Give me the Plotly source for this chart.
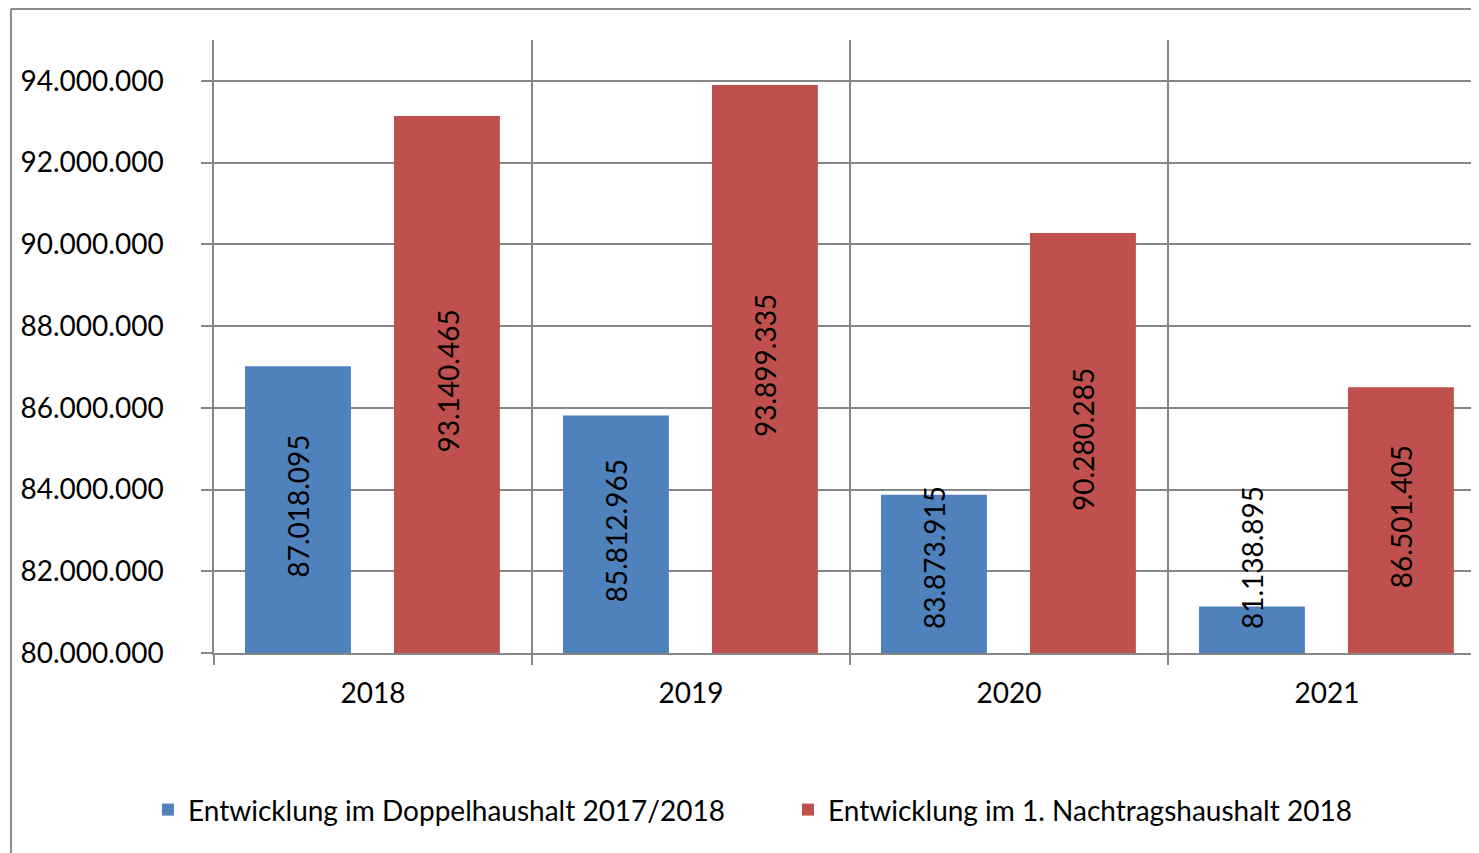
import plotly.graph_objects as go

years = ["2018", "2019", "2020", "2021"]
doppel = [87018095, 85812965, 83873915, 81138895]
nachtrag = [93140465, 93899335, 90280285, 86501405]
name_doppel = "Entwicklung im Doppelhaushalt 2017/2018"
name_nachtrag = "Entwicklung im 1. Nachtragshaushalt 2018"

Y_MIN, Y_MAX = 80000000, 95000000
BLUE = "#4F81BD"
RED = "#C0504D"
GRID = "#868686"
FONT = "Lato"
FS = 28


def de(v):
    return f"{v:,}".replace(",", ".")


fig = go.Figure()
fig.add_trace(go.Bar(x=years, y=doppel, name=name_doppel, marker_color=BLUE,
                     offset=-0.4025, width=0.333, marker_line_width=0))
fig.add_trace(go.Bar(x=years, y=nachtrag, name=name_nachtrag, marker_color=RED,
                     offset=0.066, width=0.333, marker_line_width=0))

label_floor = 82250000
for series, shift in ((doppel, -75), (nachtrag, 74)):
    for i, v in enumerate(series):
        yc = max((Y_MIN + v) / 2, label_floor)
        fig.add_annotation(x=i, y=yc, xref="x", yref="y", text=de(v), textangle=-90,
                           showarrow=False, xshift=shift, yshift=3,
                           font=dict(family=FONT, size=FS, color="black"))

# outer chart border (top and left visible)
fig.add_shape(type="line", xref="paper", yref="paper", x0=-0.1605, x1=1.05, y0=1.0506, y1=1.0506,
              line=dict(color="#8c8c8c", width=2))
fig.add_shape(type="line", xref="paper", yref="paper", x0=-0.1605, x1=-0.1605, y0=1.0506, y1=-0.35,
              line=dict(color="#8c8c8c", width=2))

fig.update_layout(
    width=1471, height=845,
    margin=dict(l=206, r=0, t=32, b=200),
    paper_bgcolor="white", plot_bgcolor="white",
    barmode="overlay",
    separators=",.",
    font=dict(family=FONT, size=FS, color="black"),
    showlegend=True,
    legend=dict(orientation="h", x=-0.0522, xanchor="left", y=-0.256, yanchor="middle",
                font=dict(family=FONT, size=FS, color="black"), traceorder="normal",
                entrywidth=595, entrywidthmode="pixels"),
)
fig.update_xaxes(type="category", tickson="boundaries", showgrid=True, gridcolor=GRID, gridwidth=1.5,
                 ticks="outside", ticklen=10, tickcolor=GRID, tickwidth=1.5,
                 showline=True, linecolor=GRID, linewidth=1.5,
                 range=[-0.5, 3.478], ticklabelstandoff=15)
fig.update_yaxes(range=[Y_MIN, Y_MAX], dtick=2000000, tick0=Y_MIN, tickformat=",.0f",
                 showgrid=True, gridcolor=GRID, gridwidth=1.5,
                 ticks="outside", ticklen=11, tickcolor=GRID, tickwidth=1.5,
                 showline=True, linecolor=GRID, linewidth=1.5, zeroline=False,
                 ticklabelstandoff=32)

fig.write_html("out.html")
